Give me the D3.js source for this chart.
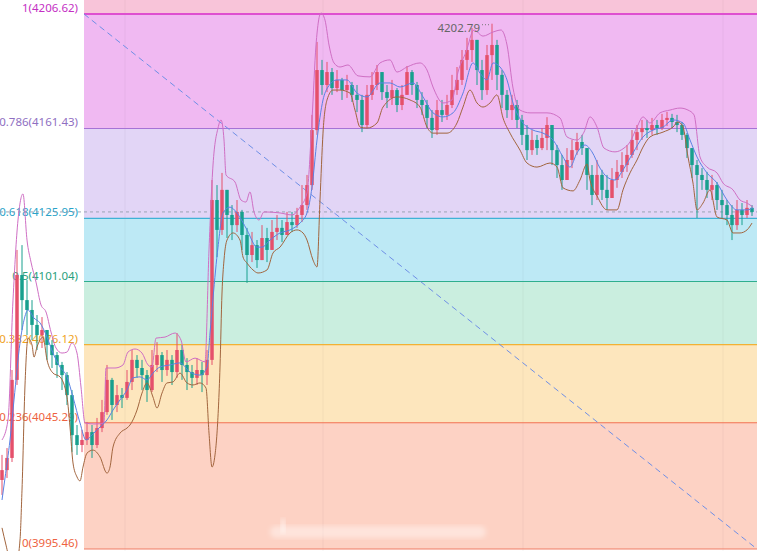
<!DOCTYPE html>
<html>
<head>
<meta charset="utf-8">
<script src="https://cdn.jsdelivr.net/npm/d3@7"></script>
<style>
  body { margin: 0; background: #fff; }
  svg { display: block; font-family: "Noto Sans", "DejaVu Sans", sans-serif; }
</style>
</head>
<body>
<div id="chart"></div>
<script>
// fibonacci levels
var fibRatios = [1, 0.786, 0.618, 0.5, 0.382, 0.236, 0];
var fibPrices = [4206.62, 4161.43, 4125.95, 4101.04, 4076.12, 4045.29, 3995.46];
// anchor of the retracement tool: [bar, price]
var fibAnchor = [[16.4, 4206.62], [151, 3995.46]];
var lastPrice = 4128.5;
var highLabel = 4202.79;

var firstOpen = 4022.7;
var closes = [4026.6,4031.4,4062.2,4103.6,4093.7,4089.8,4083.9,4079.9,4081.9,4076.0,
  4072.0,4068.1,4064.1,4056.2,4040.4,4036.5,4038.5,4041.6,4036.5,4043.2,
  4049.5,4062.2,4052.3,4056.2,4055.1,4061.4,4070.1,4066.9,4064.1,4058.2,
  4068.1,4072.0,4066.1,4070.1,4065.3,4074.0,4068.1,4065.3,4063.0,4066.1,
  4064.1,4070.1,4133.2,4121.4,4137.2,4127.3,4123.3,4128.5,4119.4,4111.5,
  4115.4,4109.5,4118.2,4113.5,4120.6,4122.2,4119.4,4124.5,4123.3,4127.3,
  4131.2,4139.1,4160.8,4184.5,4178.6,4183.7,4177.4,4180.6,4176.6,4178.6,
  4174.7,4172.7,4162.8,4174.7,4178.6,4183.7,4175.8,4173.5,4176.6,4170.7,
  4174.7,4183.7,4178.6,4172.7,4170.7,4165.6,4160.8,4168.7,4166.8,4170.7,
  4176.6,4180.6,4188.5,4192.4,4196.4,4184.5,4176.6,4190.4,4194.4,4182.6,
  4174.7,4168.7,4170.7,4164.8,4158.9,4152.9,4156.9,4153.7,4157.7,4162.8,
  4152.9,4147.0,4141.1,4149.0,4152.9,4156.1,4153.7,4143.1,4135.2,4143.1,
  4137.2,4134.0,4141.1,4144.3,4147.0,4151.0,4156.9,4160.0,4161.6,4160.8,
  4162.8,4161.6,4164.8,4165.6,4164.0,4162.8,4158.9,4153.7,4147.0,4143.1,
  4141.1,4137.2,4139.1,4133.2,4131.2,4127.3,4123.3,4129.3,4127.3,4130.1,
  4128.5];
var highs = [4032.6,4035.3,4066.1,4113.5,4115.4,4101.6,4093.7,4087.8,4087.0,4081.9,
  4077.9,4073.2,4069.3,4065.3,4058.2,4044.4,4042.4,4045.6,4044.4,4047.2,
  4054.3,4068.1,4063.0,4060.2,4059.0,4066.1,4074.0,4072.0,4070.1,4066.1,
  4074.0,4077.1,4073.2,4074.0,4072.0,4080.7,4076.0,4070.8,4068.1,4070.8,
  4069.3,4074.0,4141.1,4139.1,4143.9,4135.2,4131.2,4133.2,4129.3,4122.2,
  4120.6,4117.4,4123.3,4122.2,4125.3,4127.3,4125.3,4128.5,4128.5,4130.1,
  4139.1,4143.1,4166.8,4195.6,4188.5,4187.7,4185.3,4184.5,4181.4,4182.6,
  4179.8,4178.6,4174.7,4178.6,4183.7,4186.5,4182.6,4178.6,4180.6,4177.4,
  4178.6,4186.1,4184.5,4179.8,4175.8,4172.7,4168.7,4172.7,4172.7,4174.7,
  4182.6,4185.7,4192.4,4197.2,4201.1,4194.4,4188.5,4194.4,4202.79,4196.4,
  4184.5,4176.6,4174.7,4172.7,4166.8,4162.8,4160.8,4158.9,4161.6,4165.9,
  4162.8,4154.9,4151.0,4153.7,4156.9,4159.7,4158.9,4153.7,4147.0,4149.0,
  4145.1,4143.1,4145.8,4149.0,4152.1,4154.9,4160.8,4162.8,4164.8,4164.8,
  4165.6,4164.8,4167.2,4168.0,4167.2,4166.8,4164.0,4159.7,4153.7,4149.0,
  4145.8,4144.3,4143.1,4140.3,4137.2,4133.2,4131.2,4133.2,4132.0,4133.2,
  4131.2];
var lows = [4016.8,4023.5,4029.8,4060.2,4081.9,4079.9,4077.9,4074.0,4074.8,4070.1,
  4066.9,4063.0,4058.2,4052.3,4033.7,4032.6,4033.7,4036.5,4031.4,4035.3,
  4041.6,4048.4,4046.4,4049.5,4051.1,4054.3,4058.2,4063.0,4058.2,4053.5,
  4057.4,4065.3,4061.4,4063.8,4060.2,4063.0,4062.2,4058.2,4059.0,4060.2,
  4057.4,4060.2,4068.1,4110.7,4119.4,4118.2,4117.4,4120.6,4113.5,4100.5,
  4108.7,4106.4,4110.3,4108.7,4114.3,4117.4,4116.6,4120.6,4120.6,4122.2,
  4124.5,4129.3,4137.2,4158.9,4174.7,4175.8,4174.7,4175.8,4172.7,4173.5,
  4171.9,4167.9,4160.0,4161.6,4172.7,4176.6,4172.7,4169.5,4170.7,4167.9,
  4168.7,4174.7,4174.7,4169.5,4166.8,4161.6,4157.7,4158.9,4164.0,4164.8,
  4169.5,4174.7,4178.6,4184.5,4187.7,4178.6,4172.7,4174.7,4180.6,4176.6,
  4169.5,4165.6,4164.8,4161.6,4154.9,4149.0,4151.0,4151.0,4152.9,4152.9,
  4147.0,4141.9,4137.2,4143.1,4145.8,4151.0,4151.0,4137.2,4131.2,4133.2,
  4133.2,4129.3,4135.2,4138.0,4141.9,4144.3,4149.8,4152.9,4156.9,4157.7,
  4158.9,4158.9,4160.8,4162.4,4161.6,4160.0,4156.9,4149.8,4141.9,4126.1,
  4137.2,4134.0,4133.2,4129.3,4126.1,4123.3,4117.4,4121.4,4123.3,4126.1,
  4126.9];

// indicator lines: [bar, price]
var upperBand = [[0,4038.5],[1.2,4046.4],[2.2,4093.7],[3.2,4125.3],[4.2,4135.6],[5,4117.4],[5.8,4108.7],
  [6.8,4100.8],[7.8,4091.8],[8.8,4089.0],[9.8,4081.1],[10.8,4074.8],[12,4072.8],[13,4073.2],[14,4076.8],
  [15,4072.8],[15.8,4059.4],[16.6,4045.2],[18.6,4044.8],[20.4,4045.2],[20.8,4066.9],[22.6,4066.9],
  [24.2,4068.1],[25.2,4073.2],[26.6,4074.4],[28,4072.8],[29.2,4068.1],[30,4067.3],[30.8,4078.7],
  [32.6,4079.1],[34.6,4080.7],[35.8,4077.9],[36.8,4069.3],[38.6,4070.8],[40.6,4069.3],[41.4,4113.5],
  [42.2,4147.0],[43.2,4161.6],[43.8,4164.8],[44.4,4156.9],[44.8,4143.1],[46.6,4140.3],[47.8,4133.2],
  [48.8,4132.4],[49.6,4136.4],[50.4,4128.5],[51.4,4125.3],[52.4,4128.5],[55.6,4128.1],[58,4127.3],
  [59.6,4130.4],[61,4136.0],[62,4164.8],[62.8,4194.4],[63.8,4207.0],[64.6,4204.2],[65.4,4194.4],
  [66.4,4187.3],[67.6,4185.7],[69.2,4186.5],[71.2,4182.2],[73.6,4181.8],[75.6,4187.3],[77.6,4188.5],
  [79,4183.7],[81,4185.7],[83.6,4187.3],[85,4184.5],[86.2,4177.8],[88.2,4171.5],[90,4172.7],
  [91.2,4183.7],[92.8,4191.6],[94.4,4200.3],[96.2,4197.9],[98.2,4199.5],[99.8,4200.3],[101,4194.4],
  [102.2,4177.4],[103.6,4168.7],[105.6,4167.6],[109,4167.6],[111.6,4165.6],[113,4158.1],[115,4156.9],
  [116.4,4160.0],[117.6,4166.0],[119,4162.0],[120.4,4153.7],[122.6,4152.2],[124.4,4153.7],[125.6,4156.1],
  [127,4162.0],[128.2,4166.0],[129.6,4163.6],[131.6,4167.6],[133.6,4168.7],[135.6,4169.5],[137.2,4168.7],
  [138.4,4166.8],[139.6,4150.2],[141,4146.2],[143,4143.9],[144.2,4139.9],[146.2,4137.2],[147.6,4133.2],
  [149,4132.0],[150.2,4130.4]];
var midLine = [[0,4014.8],[0.6,4023.5],[1.6,4038.5],[2.4,4054.3],[3.6,4076.8],[4.4,4085.8],[5.2,4089.8],
  [6.4,4086.6],[7.6,4084.7],[9,4079.1],[10.2,4072.8],[11.6,4067.3],[13,4063.4],[14.2,4055.4],[15.6,4045.2],
  [16.8,4038.5],[18.2,4040.9],[19.6,4043.6],[21,4046.4],[22.2,4050.3],[23.6,4054.3],[25,4058.2],
  [26.2,4063.0],[27.6,4063.4],[29,4062.2],[30.2,4064.9],[31.6,4067.3],[33.6,4068.1],[35.6,4068.9],
  [37.6,4065.3],[39.6,4064.1],[41,4067.3],[41.6,4080.7],[42.2,4094.5],[43.2,4114.6],[44.2,4128.1],
  [45.6,4130.4],[47,4128.1],[49,4121.4],[51,4114.6],[52,4114.6],[53.6,4117.4],[55.6,4120.2],[57.6,4121.4],
  [59.6,4124.1],[61,4128.1],[62,4138.3],[63,4156.9],[64.2,4172.7],[65.2,4177.8],[67,4180.6],[69,4180.6],
  [71,4175.4],[73,4173.9],[75.6,4179.4],[77.6,4179.4],[79.6,4177.8],[82.2,4179.4],[84.2,4173.9],
  [86.2,4167.6],[88.2,4166.0],[90.2,4167.6],[92.2,4175.4],[94.2,4187.3],[95.6,4183.3],[97,4180.6],
  [98.2,4187.3],[99.6,4185.7],[101,4180.6],[102.2,4171.5],[104.2,4163.6],[106.2,4160.8],[108.2,4159.6],
  [110.2,4156.9],[112.2,4150.2],[113.6,4146.2],[115,4151.8],[116.6,4154.9],[118,4152.2],[119.6,4145.8],
  [121,4142.3],[122.6,4141.1],[124.2,4145.1],[126.2,4151.8],[128.2,4158.1],[130.2,4160.8],[132.2,4162.0],
  [134.2,4164.8],[136.2,4163.6],[137.6,4156.9],[139,4150.2],[141,4143.9],[143,4139.9],[145,4133.2],
  [147,4129.3],[149,4129.3],[150.2,4130.1]];
var lowerBand = [[0,4003.8],[0.8,3997.0],[1.6,3991.1],[2.8,3989.1],[3.6,3999.0],[4,4018.7],[4.6,4060.2],
  [5.2,4078.7],[6,4076.0],[6.4,4071.2],[7,4075.2],[8.2,4079.1],[9,4070.1],[10.2,4064.9],[11.6,4063.4],
  [13,4055.4],[13.6,4043.6],[14.2,4029.4],[15,4023.9],[15.6,4022.3],[16.2,4027.8],[17,4033.3],[18.2,4034.5],
  [19.6,4031.8],[21,4025.4],[21.6,4027.8],[22.2,4035.7],[23.6,4041.2],[25,4043.2],[25.6,4044.4],[27,4050.3],
  [28,4057.0],[29,4061.0],[30.2,4055.4],[31,4051.1],[32,4057.0],[33,4061.0],[34.2,4061.4],[35.6,4064.9],
  [37,4061.0],[38.2,4060.2],[39.6,4061.0],[40.8,4059.0],[41.4,4041.2],[42,4027.8],[42.6,4032.6],[43,4041.2],
  [43.6,4067.3],[44,4096.5],[44.4,4109.5],[45,4117.4],[46.2,4120.2],[47.6,4117.4],[48.2,4110.7],[49,4108.3],
  [50.2,4105.6],[51.2,4104.4],[53,4105.6],[54.2,4112.3],[55.6,4114.6],[57.6,4120.2],[59,4121.4],[60.2,4120.2],
  [61,4117.4],[62.2,4109.5],[63,4106.8],[63.6,4133.2],[64.2,4159.6],[65,4172.7],[66.2,4176.6],[67.6,4176.6],
  [69.6,4175.4],[70.6,4168.7],[71.6,4162.0],[73,4161.6],[75,4163.6],[76.2,4169.9],[79,4173.9],[81.6,4172.7],
  [83.6,4169.9],[85,4162.0],[86.2,4159.6],[89,4159.6],[91,4163.6],[92.2,4169.9],[93.6,4176.6],[95,4171.5],
  [96.2,4169.9],[97.6,4171.5],[99,4174.7],[100.2,4165.6],[101.6,4159.6],[103.6,4152.9],[105,4147.8],
  [107,4146.2],[109.6,4147.8],[111,4146.2],[112.2,4138.0],[114.2,4136.8],[115.6,4141.1],[117,4147.4],
  [117.6,4141.1],[119,4134.8],[121,4129.3],[123,4129.3],[124.2,4137.2],[125.6,4143.9],[127,4149.0],
  [128.2,4154.1],[129.6,4158.1],[132.2,4160.0],[134.2,4162.0],[135.2,4164.0],[136.2,4162.0],[137.2,4150.2],
  [138.2,4139.9],[139,4129.3],[140.2,4132.0],[141.6,4137.2],[143,4126.5],[145,4125.3],[146.2,4120.2],
  [147.6,4120.2],[149,4121.4],[150,4124.1]];

var levelColors = ["#de4fd0", "#a673d6", "#3fb2d6", "#2fae8e", "#f2b134", "#f2704f", "#f07a63"];
var labelColors = ["#c42fc4", "#8f6fc2", "#2aa3c9", "#2a9f7d", "#f0a21e", "#ee6240", "#ee6240"];
var bandColors = ["#f0b9f2", "#e2d5f6", "#bde9f5", "#caeedf", "#fde6bd", "#fdd2c4"];
var topBandColor = "#f8c4d9";

var width = 757, height = 551;

var svg = d3.select("#chart")
    .append("svg")
    .attr("width", width)
    .attr("height", height);

var x = d3.scaleLinear().domain([0, 150]).range([2, 752]);
var y = d3.scaleLinear().domain([3995.46, 4206.62]).range([549, 14]);

var x0 = x(fibAnchor[0][0]);

// bands
svg.append("rect")
    .attr("x", x0).attr("y", 0)
    .attr("width", width - x0).attr("height", y(fibPrices[0]))
    .attr("fill", topBandColor);

svg.selectAll(".band")
    .data(d3.range(fibPrices.length - 1))
    .enter()
    .append("rect")
    .attr("class", "band")
    .attr("x", x0)
    .attr("y", function(i) { return y(fibPrices[i]); })
    .attr("width", width - x0)
    .attr("height", function(i) { return y(fibPrices[i + 1]) - y(fibPrices[i]); })
    .attr("fill", function(i) { return bandColors[i]; });

// faint vertical grid
svg.selectAll(".vgrid")
    .data([24.6, 64.2, 104.2, 144.2])
    .enter()
    .append("line")
    .attr("x1", function(d) { return x(d); })
    .attr("x2", function(d) { return x(d); })
    .attr("y1", 0).attr("y2", height)
    .attr("stroke", "#000")
    .attr("stroke-opacity", 0.04);

// level lines
svg.selectAll(".level")
    .data(fibPrices)
    .enter()
    .append("line")
    .attr("x1", x0).attr("x2", width)
    .attr("y1", function(d) { return y(d); })
    .attr("y2", function(d) { return y(d); })
    .attr("stroke", function(d, i) { return levelColors[i]; })
    .attr("stroke-width", function(d, i) { return i === 0 ? 2 : 1.2; });

// level labels
svg.selectAll(".lbl")
    .data(fibPrices)
    .enter()
    .append("text")
    .attr("x", 78)
    .attr("y", function(d) { return y(d) - 2; })
    .attr("text-anchor", "end")
    .attr("font-size", "11.5px")
    .attr("fill", function(d, i) { return labelColors[i]; })
    .text(function(d, i) { return fibRatios[i] + "(" + d.toFixed(2) + ")"; });

// diagonal trend line
svg.append("line")
    .attr("x1", x(fibAnchor[0][0])).attr("y1", y(fibAnchor[0][1]))
    .attr("x2", x(fibAnchor[1][0])).attr("y2", y(fibAnchor[1][1]))
    .attr("stroke", "#6f8fe6")
    .attr("stroke-width", 1)
    .attr("stroke-dasharray", "6,4");

// last price line
svg.append("line")
    .attr("x1", 0).attr("x2", width)
    .attr("y1", y(lastPrice)).attr("y2", y(lastPrice))
    .attr("stroke", "#9aa3b5")
    .attr("stroke-width", 1)
    .attr("stroke-dasharray", "3,3");

// candles
var candles = closes.map(function(c, i) {
    return { i: i, o: i === 0 ? firstOpen : closes[i - 1], c: c, h: highs[i], l: lows[i] };
});
var up = "#e5506b", down = "#18a08e";

var cg = svg.append("g");
cg.selectAll(".wick")
    .data(candles)
    .enter()
    .append("line")
    .attr("x1", function(d) { return x(d.i); })
    .attr("x2", function(d) { return x(d.i); })
    .attr("y1", function(d) { return y(Math.max(d.h, d.o, d.c)); })
    .attr("y2", function(d) { return y(Math.min(d.l, d.o, d.c)); })
    .attr("stroke", function(d) { return d.c >= d.o ? up : down; })
    .attr("stroke-width", 1);

cg.selectAll(".body")
    .data(candles)
    .enter()
    .append("rect")
    .attr("x", function(d) { return x(d.i) - 1.75; })
    .attr("width", 3.5)
    .attr("y", function(d) { return y(Math.max(d.o, d.c)); })
    .attr("height", function(d) { return Math.max(1, Math.abs(y(d.o) - y(d.c))); })
    .attr("fill", function(d) { return d.c >= d.o ? up : down; });

// indicator lines
var line = d3.line()
    .x(function(d) { return x(d[0]); })
    .y(function(d) { return y(d[1]); })
    .curve(d3.curveMonotoneX);

svg.append("path").datum(upperBand)
    .attr("d", line).attr("fill", "none")
    .attr("stroke", "#cf6fc4").attr("stroke-width", 1);
svg.append("path").datum(midLine)
    .attr("d", line).attr("fill", "none")
    .attr("stroke", "#5a82e4").attr("stroke-width", 1);
svg.append("path").datum(lowerBand)
    .attr("d", line).attr("fill", "none")
    .attr("stroke", "#a2653e").attr("stroke-width", 1);

// highest price marker
var hi = d3.maxIndex(highs);
svg.append("line")
    .attr("x1", x(hi) - 10).attr("x2", x(hi) - 2)
    .attr("y1", y(highs[hi]) + 1).attr("y2", y(highs[hi]) + 1)
    .attr("stroke", "#777")
    .attr("stroke-dasharray", "1,2");
svg.append("text")
    .attr("x", x(hi) - 12)
    .attr("y", y(highs[hi]) + 8)
    .attr("text-anchor", "end")
    .attr("font-size", "11.5px")
    .attr("fill", "#666")
    .text(highLabel.toFixed(2));

// faint watermark
var defs = svg.append("defs");
defs.append("filter").attr("id", "blur")
    .append("feGaussianBlur").attr("stdDeviation", 2.5);
svg.append("rect")
    .attr("x", 270).attr("y", 526)
    .attr("width", 216).attr("height", 12)
    .attr("rx", 6)
    .attr("fill", "#fff")
    .attr("fill-opacity", 0.4)
    .attr("filter", "url(#blur)");
svg.append("rect")
    .attr("x", 281).attr("y", 519)
    .attr("width", 4).attr("height", 14)
    .attr("fill", "#fff")
    .attr("fill-opacity", 0.6)
    .attr("filter", "url(#blur)");
</script>
</body>
</html>
